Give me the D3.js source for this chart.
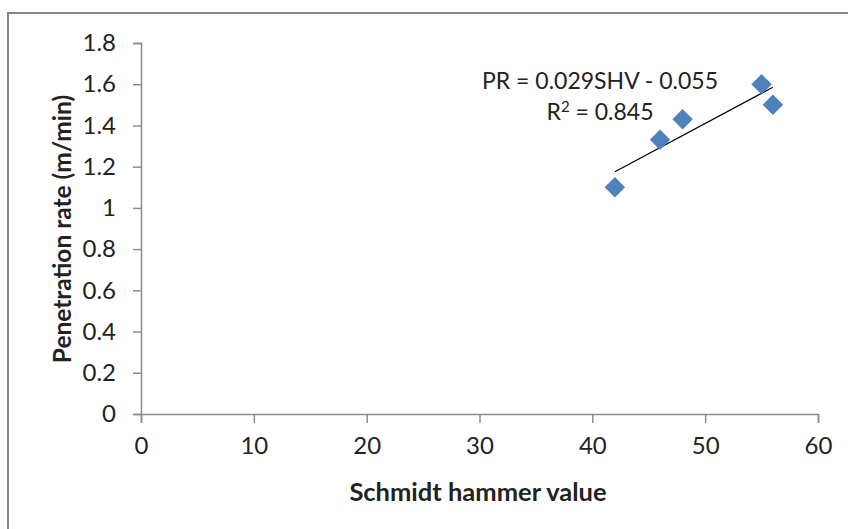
<!DOCTYPE html>
<html>
<head>
<meta charset="utf-8">
<script src="https://cdn.jsdelivr.net/npm/d3@7"></script>
<style>
  body { margin: 0; background: #fff; }
  text { font-family: Lato, "Open Sans", sans-serif; fill: #222; }
</style>
</head>
<body>
<div id="chart"></div>
<script>
// data
var shv = [42, 46, 48, 55, 56];
var pr = [1.10, 1.33, 1.43, 1.60, 1.50];
var xTicks = [0, 10, 20, 30, 40, 50, 60];
var yTicks = [0, 0.2, 0.4, 0.6, 0.8, 1, 1.2, 1.4, 1.6, 1.8];
var eqLabel = "PR = 0.029SHV - 0.055";
var r2Label = "0.845";

var width = 848, height = 529;

var svg = d3.select("#chart").append("svg")
    .attr("width", width)
    .attr("height", height);

// chart border
svg.append("rect")
    .attr("x", 8).attr("y", 13)
    .attr("width", 860).attr("height", 540)
    .attr("fill", "none")
    .attr("stroke", "#878787")
    .attr("stroke-width", 2);

var x = d3.scaleLinear().domain([0, 60]).range([141, 818]);
var y = d3.scaleLinear().domain([0, 1.8]).range([414, 43]);

var xAxis = svg.append("g")
    .attr("transform", "translate(0," + y(0) + ")")
    .call(d3.axisBottom(x).tickValues(xTicks).tickSize(9).tickPadding(14).tickFormat(d3.format("d")));

var yAxis = svg.append("g")
    .attr("transform", "translate(" + x(0) + ",0)")
    .call(d3.axisLeft(y).tickValues(yTicks).tickSize(8).tickPadding(17).tickFormat(function(d) { return d3.format("")(+d.toFixed(1)); }));

[xAxis, yAxis].forEach(function(a) {
  a.select(".domain").attr("stroke", "#8c8c8c").attr("stroke-width", 1.5);
  a.selectAll(".tick line").attr("stroke", "#8c8c8c").attr("stroke-width", 1.5);
  a.selectAll(".tick text")
      .style("font-family", "Lato, 'Open Sans', sans-serif")
      .style("font-size", "24px")
      .attr("fill", "#222");
});

// axis titles
svg.append("text")
    .attr("x", 478).attr("y", 501)
    .attr("text-anchor", "middle")
    .style("font-size", "25.5px")
    .style("font-weight", "bold")
    .text("Schmidt hammer value");

svg.append("text")
    .attr("transform", "translate(71,229) rotate(-90)")
    .attr("text-anchor", "middle")
    .style("font-size", "24.5px")
    .style("font-weight", "bold")
    .text("Penetration rate (m/min)");

// least squares trendline from the points
var mx = d3.mean(shv), my = d3.mean(pr);
var sxy = d3.sum(shv, function(v, i) { return (v - mx) * (pr[i] - my); });
var sxx = d3.sum(shv, function(v) { return (v - mx) * (v - mx); });
var slope = sxy / sxx, icpt = my - slope * mx;
var x0 = d3.min(shv), x1 = d3.max(shv);

svg.append("line")
    .attr("x1", x(x0)).attr("y1", y(icpt + slope * x0))
    .attr("x2", x(x1)).attr("y2", y(icpt + slope * x1))
    .attr("stroke", "#000")
    .attr("stroke-width", 1.2);

svg.append("g").selectAll("path")
    .data(shv)
    .enter().append("path")
    .attr("d", d3.symbol().type(d3.symbolSquare).size(210))
    .attr("transform", function(d, i) { return "translate(" + x(d) + "," + y(pr[i]) + ") rotate(45)"; })
    .attr("fill", "#4f81bd");

// equation label
svg.append("text")
    .attr("x", 600).attr("y", 89)
    .attr("text-anchor", "middle")
    .style("font-size", "23px")
    .text(eqLabel);

var r2 = svg.append("text")
    .attr("x", 600).attr("y", 120)
    .attr("text-anchor", "middle")
    .style("font-size", "23px");
r2.append("tspan").text("R");
r2.append("tspan").attr("dy", -8).style("font-size", "15px").text("2");
r2.append("tspan").attr("dy", 8).text(" = " + r2Label);
</script>
</body>
</html>
